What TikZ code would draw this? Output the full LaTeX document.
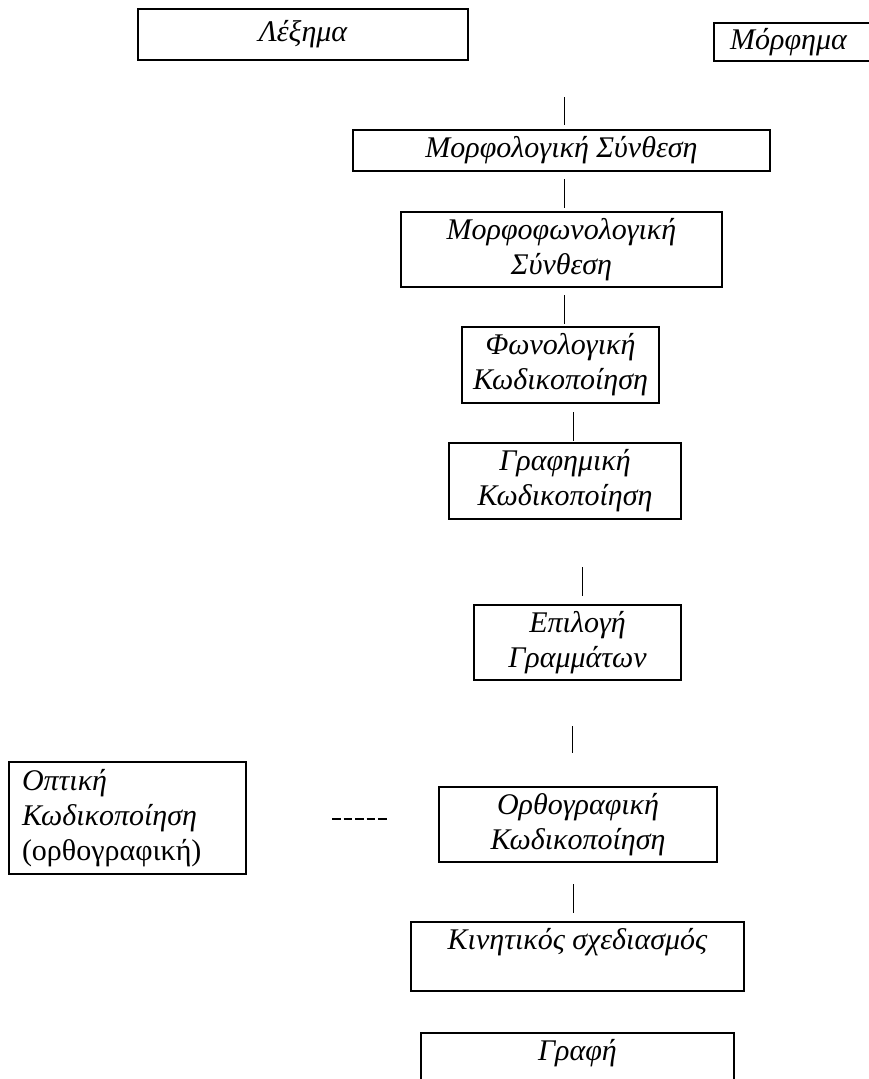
\documentclass[tikz,border=0pt]{standalone}
\usepackage{fontspec}
\setmainfont{Liberation Serif}
\begin{document}
\begin{tikzpicture}[x=1pt,y=-1pt,
  box/.style={draw,line width=1.6pt,inner sep=0pt,align=center,
    font=\fontsize{30}{35}\selectfont\itshape},
  bar/.style={line width=1pt},
  dashline/.style={line width=1.3pt,dash pattern=on 8.5pt off 3pt}]
\useasboundingbox (0,0) rectangle (869,1079);
\clip (0,0) rectangle (869,1079);
\node[box,minimum width=330pt,minimum height=51pt] (lex) at (303,34.5) {Λέξημα};
\node[box,minimum width=161pt,minimum height=38pt] (morf) at (794.5,42) {\hspace*{-12pt}Μόρφημα};
\node[box,minimum width=417pt,minimum height=41pt] (mfs) at (561.5,150.5) {Μορφολογική Σύνθεση};
\node[box,minimum width=321pt,minimum height=75pt] (mfws) at (561.5,249.5) {Μορφοφωνολογική\\Σύνθεση};
\node[box,minimum width=197pt,minimum height=76pt] (fon) at (560.5,365) {Φωνολογική\\Κωδικοποίηση};
\node[box,minimum width=232pt,minimum height=76pt] (graf) at (565,481) {Γραφημική\\Κωδικοποίηση};
\node[box,minimum width=207pt,minimum height=75pt] (epil) at (577.5,642.5) {Επιλογή\\Γραμμάτων};
\node[box,minimum width=278pt,minimum height=75pt] (orth) at (578,824.5) {Ορθογραφική\\Κωδικοποίηση};
\node[box,minimum width=333pt,minimum height=69pt] (kin) at (577.5,956.5) {Κινητικός σχεδιασμός\\\mbox{}};
\node[box,minimum width=313pt,minimum height=69pt] (grafi) at (577.5,1067.5) {Γραφή\\\mbox{}};
\node[box,minimum width=237pt,minimum height=112pt,align=left,text width=211pt,inner xsep=13pt] (opt) at (127.5,818) {Οπτική\\Κωδικοποίηση\\\upshape(ορθογραφική)};
% bars
\coordinate (b1a) at (564,97);  \coordinate (b1b) at (564,125);
\coordinate (b2a) at (564,179); \coordinate (b2b) at (564,208);
\coordinate (b3a) at (564,295); \coordinate (b3b) at (564,324);
\coordinate (b4a) at (573,412); \coordinate (b4b) at (573,441);
\coordinate (b5a) at (582,567); \coordinate (b5b) at (582,596);
\coordinate (b6a) at (572,726); \coordinate (b6b) at (572,753);
\coordinate (b7a) at (573,884); \coordinate (b7b) at (573,913);
\draw[bar] (b1a) -- (b1b);
\draw[bar] (b2a) -- (b2b);
\draw[bar] (b3a) -- (b3b);
\draw[bar] (b4a) -- (b4b);
\draw[bar] (b5a) -- (b5b);
\draw[bar] (b6a) -- (b6b);
\draw[bar] (b7a) -- (b7b);
\coordinate (d1) at (332,819); \coordinate (d2) at (388,819);
\draw[dashline] (d1) -- (d2);
\end{tikzpicture}
\end{document}
